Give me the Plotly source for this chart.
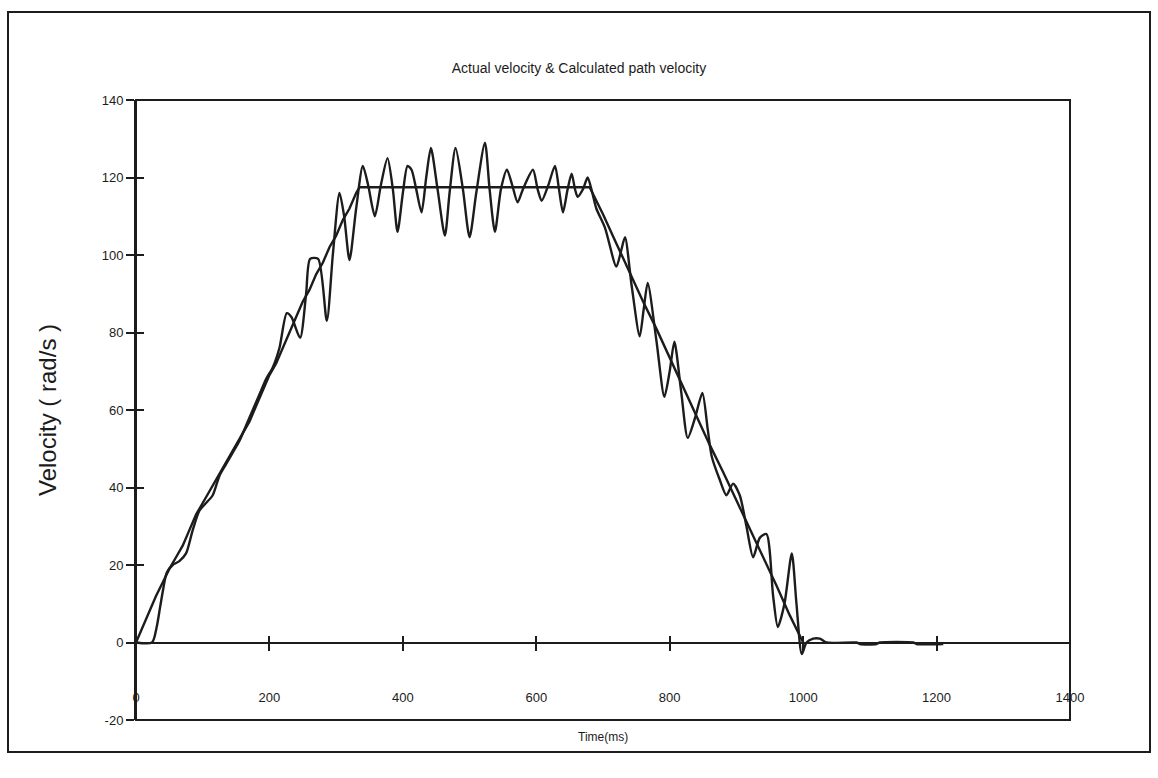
import plotly.graph_objects as go

# ---- data ----
path_t = [0, 10, 20, 30, 40, 50, 60, 70, 80, 90, 100, 110, 120, 130, 140, 150, 160, 170, 180, 190,
          200, 210, 220, 230, 240, 250, 260, 270, 280, 290, 300, 310, 320, 330, 335, 680, 690, 700,
          720, 740, 760, 780, 800, 820, 840, 860, 880, 900, 920, 940, 960, 980, 1000]
path_v = [0, 4, 8, 12, 15.5, 19, 22, 25, 29, 33, 36, 39, 42, 45, 48, 51, 54, 57, 61, 65,
          69, 72, 76, 80, 84, 88, 91, 95, 98, 102, 105, 109, 112, 116, 117.5, 117.5, 114, 110.5,
          103, 95.5, 88, 81, 73.5, 66, 58.7, 51, 44, 36.7, 29, 22, 14.7, 7, 0]

actual_t = [0, 24, 31, 36, 41, 46, 55, 65, 75, 85, 95, 105, 115, 125, 135, 145, 155, 165, 175, 185,
            195, 205, 215, 226, 233, 246, 255, 261, 273, 286, 295, 305, 312, 320, 330, 340, 348, 358,
            367, 377, 385, 392, 400, 407, 413, 420, 428, 435, 442, 452, 463, 470, 479, 490, 500, 510,
            523, 530, 538, 547, 556, 564, 572, 580, 595, 602, 608, 618, 628, 634, 640, 647, 653, 658,
            662, 670, 677, 684, 690, 703, 720, 727, 733, 743, 755, 761, 767, 780, 792, 800, 807, 817,
            827, 838, 849, 857, 863, 875, 885, 895, 905, 915, 925, 935, 945, 955, 962, 972, 983, 990,
            998, 1005, 1015, 1025, 1035, 1080, 1085, 1110, 1115, 1165, 1170, 1210]
actual_v = [0, 0, 4, 9, 14, 18, 20, 21, 23, 29, 34, 36, 38, 43, 46, 49, 52, 56, 60, 64,
            68, 71, 76, 85, 84, 78.6, 90, 99, 99, 83, 100, 116, 110, 98.7, 112, 123, 118, 110,
            118, 125, 117, 106, 116, 123, 122, 117, 111, 120, 127.6, 117, 105, 116, 127.6, 117, 104.6, 116,
            129, 117, 106, 117, 122, 118, 113.6, 117, 122, 117, 114, 118, 123, 117, 111, 117, 121, 117,
            115, 117, 120, 116, 112, 107, 97, 101, 104.6, 92, 79, 86, 92.8, 78, 63.4, 70, 77.6, 65,
            52.8, 58, 64.4, 55, 48, 42, 38, 41, 38, 30, 22, 27, 28, 12, 4, 10, 23, 10,
            -3, 0, 1, 1, 0, 0, -0.4, -0.4, 0, 0, -0.4, -0.4]

x_ticks = [0, 200, 400, 600, 800, 1000, 1200, 1400]
y_ticks = [-20, 0, 20, 40, 60, 80, 100, 120, 140]
y_tick_text = ["-20", "0", "20", "40", "60", "80", "100", "120", "140"]

X_RANGE = [0, 1400]
Y_RANGE = [-20, 140]
INK = "#1c1c1c"
FONT = "Liberation Sans, Arial, sans-serif"

fig = go.Figure()
fig.add_trace(go.Scatter(x=path_t, y=path_v, mode="lines", name="Calculated path velocity",
                         line=dict(color=INK, width=2.4), hoverinfo="x+y"))
fig.add_trace(go.Scatter(x=actual_t, y=actual_v, mode="lines", name="Actual velocity",
                         line=dict(color=INK, width=2.4, shape="spline", smoothing=0.7),
                         hoverinfo="x+y"))
# helper trace so the inner-tick axes are drawn
fig.add_trace(go.Scatter(x=[None], y=[None], xaxis="x2", yaxis="y2", showlegend=False,
                         hoverinfo="skip"))

zero_pos = (0 - Y_RANGE[0]) / (Y_RANGE[1] - Y_RANGE[0])

fig.update_layout(
    width=1158, height=778,
    margin=dict(l=136, r=88, t=100, b=58),
    paper_bgcolor="white", plot_bgcolor="white",
    showlegend=False,
    font=dict(family=FONT, color=INK, size=13),
    title=dict(text="Actual velocity & Calculated path velocity", x=0.5, xanchor="center",
               y=1 - 68 / 778, yanchor="middle", font=dict(size=14, color=INK)),
    xaxis=dict(range=X_RANGE, tickvals=x_ticks, ticks="outside", ticklen=7, tickwidth=2,
               tickcolor=INK, showline=True, linecolor=INK, linewidth=2, showgrid=False,
               zeroline=False, anchor="free", position=zero_pos, ticklabelstandoff=36,
               tickfont=dict(size=13, color=INK)),
    xaxis2=dict(range=X_RANGE, tickvals=x_ticks, ticks="inside", ticklen=7, tickwidth=2,
                tickcolor=INK, showticklabels=False, showline=False, showgrid=False,
                zeroline=False, overlaying="x", anchor="free", position=zero_pos),
    yaxis=dict(range=Y_RANGE, tickvals=y_ticks, ticktext=y_tick_text, ticks="outside", ticklen=8,
               tickwidth=2, tickcolor=INK, showline=True, linecolor=INK, linewidth=2,
               showgrid=False, zeroline=False, tickfont=dict(size=13, color=INK),
               title=dict(text="Velocity ( rad/s )", font=dict(size=24, color=INK), standoff=38)),
    yaxis2=dict(range=Y_RANGE, tickvals=y_ticks, ticks="inside", ticklen=8, tickwidth=2,
                tickcolor=INK, showticklabels=False, showline=False, showgrid=False,
                zeroline=False, overlaying="y", side="left", anchor="x"),
    shapes=[
        dict(type="rect", xref="paper", yref="paper", x0=0, x1=1, y0=0, y1=1,
             line=dict(color=INK, width=2), layer="above"),
        dict(type="rect", xref="paper", yref="paper", x0=(8 - 136) / 934, x1=(1150 - 136) / 934,
             y0=(720 - 752) / 620, y1=(720 - 12) / 620, line=dict(color=INK, width=2)),
    ],
    annotations=[
        dict(text="Time(ms)", xref="paper", yref="paper", x=0.5, y=(720 - 737) / 620,
             xanchor="center", yanchor="middle", showarrow=False, font=dict(size=12, color=INK)),
    ],
)

fig.write_html("out.html")
